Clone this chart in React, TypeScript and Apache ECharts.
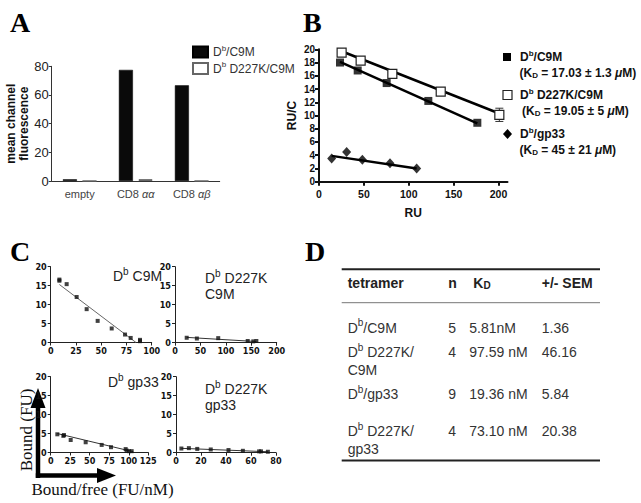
import React, { useEffect, useRef } from 'react';
import * as echarts from 'echarts';

// ---------------- Panel A : bar chart ----------------
const aCategories = ['empty', 'CD8αα', 'CD8αβ'];
const aSeriesNames = ['Db/C9M', 'Db D227K/C9M'];
const aC9M = [1.2, 77.5, 66.7];
const aD227K = [0, 1.3, 0];

// ---------------- Panel B : Scatchard (RU/C vs RU) ----------------
const bC9M_RU = [23.4, 43.1, 75.4, 121.8, 176.4];
const bC9M_RUC = [18.0, 16.8, 14.9, 12.2, 8.9];
const bD227K_RU = [25.2, 46.4, 81.7, 135.6, 200.9];
const bD227K_RUC = [19.5, 18.3, 16.3, 13.6, 10.1];
const bD227K_SEM = [0, 0, 0, 0.4, 1.0];
const bGp33_RU = [14.1, 30.8, 48.3, 79.1, 108.8];
const bGp33_RUC = [3.5, 4.5, 3.3, 2.8, 2.0];
const bFitC9M = [[23.4, 18.1], [176.4, 8.8]];
const bFitD227K = [[25.2, 19.7], [200.9, 10.3]];
const bFitGp33 = [[14.1, 3.9], [108.8, 2.0]];
const bLegendNames = ['Db/C9M', 'Db D227K/C9M', 'Db/gp33'];
const bLegendKD = ['17.03 ± 1.3', '19.05 ± 5', '45 ± 21'];
const bXTicks = [0, 50, 100, 150, 200];

// ---------------- Panel C : four Scatchard plots ----------------
const cTitles = [['Db C9M'], ['Db D227K', 'C9M'], ['Db gp33'], ['Db D227K', 'gp33']];
const cXMax = [100, 200, 125, 80];
const cXInterval = [25, 50, 25, 20];
const c1X = [8.6, 8.6, 15.8, 25.7, 35.6, 46.5, 60.4, 73.6, 79.2, 88.4, 88.4];
const c1Y = [16.6, 16.3, 15.4, 12.0, 8.8, 5.7, 3.7, 2.1, 1.2, 0.7, 0.35];
const c1Fit = [[8.6, 15.3], [84.5, 0]];
const c2X = [23, 43, 85, 143, 154, 160];
const c2Y = [1.3, 1.1, 1.2, 0.45, 0.35, 0.45];
const c2Fit = [[23, 1.4], [160, 0.3]];
const c3X = [8.5, 16.2, 17, 25.6, 44.8, 65.3, 77.2, 96, 97.3, 100.3, 103.7];
const c3Y = [4.8, 4.4, 4.6, 3.3, 2.7, 2.0, 1.4, 0.9, 0.5, 0.35, 0.35];
const c3Fit = [[8.5, 5.0], [105.8, 0.2]];
const c4X = [4.3, 10.3, 17, 27.8, 42, 53.5, 66.5, 68, 73.5];
const c4Y = [1.1, 1.2, 1.0, 0.85, 0.7, 0.5, 0.35, 0.35, 0.25];
const c4Fit = [[4.3, 1.15], [73.5, 0.25]];

// ---------------- Panel D : table ----------------
const dHeaders = ['tetramer', 'n', 'KD', '+/- SEM'];
const dTetramerLine1 = ['Db/C9M', 'Db D227K/', 'Db/gp33', 'Db D227K/'];
const dTetramerLine2 = ['', 'C9M', '', 'gp33'];
const dN = ['5', '4', '9', '4'];
const dKD = ['5.81nM', '97.59 nM', '19.36 nM', '73.10 nM'];
const dSEM = ['1.36', '46.16', '5.84', '20.38'];

// ---------------- styling / layout ----------------
const SANS = "'Liberation Sans', Arial, Helvetica, sans-serif";
const NARROW = "'Liberation Sans Narrow', 'DejaVu Sans Condensed', 'Liberation Sans', Arial, sans-serif";
const SERIF = "'Liberation Serif', 'Times New Roman', serif";

const fmtDb = (s: string) => s.replace(/^Db/, 'D{sup|b}');

const richFor = (size: number, weight: string, family: string, color: string) => ({
  sup: {
    fontSize: Math.round(size * 0.68), fontWeight: weight, fontFamily: family,
    color, fill: color, padding: [0, 0, Math.round(size * 0.7), 0],
  },
  sub: {
    fontSize: Math.round(size * 0.68), fontWeight: weight, fontFamily: family,
    color, fill: color, padding: [Math.round(size * 0.45), 0, 0, 0],
  },
  it: { fontSize: size, fontStyle: 'italic', fontWeight: weight, fontFamily: family, color, fill: color },
});

const gText = (
  text: string, x: number, y: number, size: number,
  o: { weight?: string; family?: string; color?: string; align?: string; rotation?: number } = {}
) => {
  const weight = o.weight || 'normal';
  const family = o.family || SANS;
  const color = o.color || '#222';
  const align = o.align || 'left';
  return {
    type: 'text', x, y, rotation: o.rotation || 0, silent: true,
    style: {
      text, fontSize: size, fontWeight: weight, fontFamily: family, fill: color,
      align, verticalAlign: 'middle', textAlign: align, textVerticalAlign: 'middle',
      rich: richFor(size, weight, family, color),
    },
  };
};

const gLine = (x1: number, y1: number, x2: number, y2: number, w: number, color = '#222') => ({
  type: 'line', silent: true, shape: { x1, y1, x2, y2 }, style: { stroke: color, lineWidth: w },
});

const cGrids = [
  { left: 50.7, top: 266.7, width: 101, height: 75.8 },
  { left: 175, top: 266.7, width: 101.7, height: 76 },
  { left: 50.7, top: 376.7, width: 97.6, height: 75.8 },
  { left: 176, top: 376.7, width: 100, height: 76 },
];

function buildOption() {
  const grids: any[] = [
    { left: 51.7, top: 66.3, width: 168, height: 114.7 },
    { left: 319, top: 49.3, width: 188.5, height: 132.4 },
    ...cGrids,
  ].map((g) => ({ ...g, containLabel: false, outerBoundsMode: 'none' }));

  const cAxisLabel = { fontSize: 9, fontWeight: 'bold', fontFamily: NARROW, color: '#111', margin: 4 };
  const cAxisLine = { show: true, onZero: false, lineStyle: { color: '#222', width: 1 } };
  const cAxisTick = { show: true, length: 3, lineStyle: { color: '#222', width: 1 } };

  const xAxis: any[] = [
    {
      gridIndex: 0, type: 'category', data: aCategories,
      axisLine: { lineStyle: { color: '#333', width: 1 } },
      axisTick: { show: false },
      axisLabel: {
        interval: 0, hideOverlap: false,
        fontSize: 11, color: '#444', fontFamily: SANS, margin: 7,
        formatter: (v: string) => (v.startsWith('CD8') ? 'CD8 {it|' + v.slice(3) + '}' : v),
        rich: richFor(11, 'normal', SANS, '#444'),
      },
    },
    {
      gridIndex: 1, type: 'value', min: 0, max: 210, interval: 50,
      name: 'RU', nameLocation: 'middle', nameGap: 25,
      nameTextStyle: { fontWeight: 'bold', fontSize: 12, fontFamily: SANS, color: '#111' },
      axisLine: { onZero: false, lineStyle: { color: '#111', width: 2 } },
      axisTick: { length: 4, lineStyle: { color: '#111', width: 2 }, customValues: bXTicks },
      axisLabel: {
        customValues: bXTicks, fontWeight: 'bold', fontSize: 10.5,
        fontFamily: SANS, color: '#111', margin: 7,
      },
      splitLine: { show: false },
    },
    ...cXMax.map((mx, i) => ({
      gridIndex: 2 + i, type: 'value', min: 0, max: mx, interval: cXInterval[i],
      axisLine: cAxisLine, axisTick: cAxisTick, axisLabel: cAxisLabel, splitLine: { show: false },
    })),
  ];

  const yAxis: any[] = [
    {
      gridIndex: 0, type: 'value', min: 0, max: 80, interval: 20,
      name: 'mean channel\nfluorescence', nameLocation: 'middle', nameGap: 15,
      nameTextStyle: { fontWeight: 'bold', fontSize: 12, fontFamily: SANS, color: '#111', lineHeight: 13 },
      axisLine: { show: true, lineStyle: { color: '#333', width: 1 } },
      axisTick: { show: true, length: 3, lineStyle: { color: '#333' } },
      axisLabel: { fontSize: 13, color: '#222', fontFamily: SANS, margin: 3 },
      splitLine: { show: false },
    },
    {
      gridIndex: 1, type: 'value', min: 0, max: 20, interval: 2,
      name: 'RU/C', nameLocation: 'middle', nameGap: 21,
      nameTextStyle: { fontWeight: 'bold', fontSize: 12, fontFamily: SANS, color: '#111' },
      axisLine: { show: true, lineStyle: { color: '#111', width: 2 } },
      axisTick: { show: true, length: 4, lineStyle: { color: '#111', width: 2 } },
      axisLabel: { fontWeight: 'bold', fontSize: 10, fontFamily: SANS, color: '#111', margin: 4 },
      splitLine: { show: false },
    },
    ...cGrids.map((_, i) => ({
      gridIndex: 2 + i, type: 'value', min: 0, max: 20, interval: 5,
      axisLine: cAxisLine, axisTick: cAxisTick, axisLabel: cAxisLabel, splitLine: { show: false },
    })),
  ];

  const zip = (xs: number[], ys: number[]) => xs.map((x, i) => [x, ys[i]]);

  const cData = [
    { x: c1X, y: c1Y, fit: c1Fit, fitColor: '#666' },
    { x: c2X, y: c2Y, fit: c2Fit, fitColor: '#333' },
    { x: c3X, y: c3Y, fit: c3Fit, fitColor: '#333' },
    { x: c4X, y: c4Y, fit: c4Fit, fitColor: '#333' },
  ];

  const series: any[] = [
    // Panel A
    {
      type: 'bar', name: aSeriesNames[0], xAxisIndex: 0, yAxisIndex: 0, data: aC9M,
      barWidth: 14, barGap: '40%', itemStyle: { color: '#0a0a0a', borderColor: '#000', borderWidth: 0.5 },
    },
    {
      type: 'bar', name: aSeriesNames[1], xAxisIndex: 0, yAxisIndex: 0, data: aD227K,
      barWidth: 14, itemStyle: { color: '#fff', borderColor: '#666', borderWidth: 1 },
    },
    // Panel B fits
    ...[bFitC9M, bFitD227K, bFitGp33].map((fit, i) => ({
      type: 'line', name: 'B fit ' + i, xAxisIndex: 1, yAxisIndex: 1, data: fit,
      symbol: 'none', showSymbol: false, lineStyle: { color: '#000', width: 2.5 }, z: 2,
    })),
    // Panel B error bars
    {
      type: 'custom', name: 'B SEM', xAxisIndex: 1, yAxisIndex: 1, z: 2,
      data: bD227K_RU.map((x, i) => [x, bD227K_RUC[i] - bD227K_SEM[i], bD227K_RUC[i] + bD227K_SEM[i]])
        .filter((d) => d[2] - d[1] > 0),
      encode: { x: 0, y: [1, 2] },
      renderItem: (params: any, api: any) => {
        const x = api.value(0);
        const lo = api.coord([x, api.value(1)]);
        const hi = api.coord([x, api.value(2)]);
        const w = 4;
        const st = { stroke: '#333', lineWidth: 1 };
        return {
          type: 'group',
          children: [
            { type: 'line', shape: { x1: lo[0], y1: lo[1], x2: hi[0], y2: hi[1] }, style: st },
            { type: 'line', shape: { x1: lo[0] - w, y1: lo[1], x2: lo[0] + w, y2: lo[1] }, style: st },
            { type: 'line', shape: { x1: hi[0] - w, y1: hi[1], x2: hi[0] + w, y2: hi[1] }, style: st },
          ],
        };
      },
    },
    // Panel B points
    {
      type: 'scatter', name: 'B ' + bLegendNames[0], xAxisIndex: 1, yAxisIndex: 1,
      data: zip(bC9M_RU, bC9M_RUC), symbol: 'rect', symbolSize: 8, itemStyle: { color: '#000' }, z: 3,
    },
    {
      type: 'scatter', name: 'B ' + bLegendNames[1], xAxisIndex: 1, yAxisIndex: 1,
      data: zip(bD227K_RU, bD227K_RUC), symbol: 'rect', symbolSize: 9,
      itemStyle: { color: '#fff', borderColor: '#222', borderWidth: 1.2, opacity: 1 }, z: 3,
    },
    {
      type: 'scatter', name: 'B ' + bLegendNames[2], xAxisIndex: 1, yAxisIndex: 1,
      data: zip(bGp33_RU, bGp33_RUC), symbol: 'diamond', symbolSize: [9, 10], itemStyle: { color: '#000' }, z: 3,
    },
    // Panel C
    ...cData.flatMap((c, i) => [
      {
        type: 'line', name: 'C fit ' + i, xAxisIndex: 2 + i, yAxisIndex: 2 + i, data: c.fit,
        symbol: 'none', showSymbol: false, lineStyle: { color: c.fitColor, width: 1 }, z: 2,
      },
      {
        type: 'scatter', name: 'C points ' + i, xAxisIndex: 2 + i, yAxisIndex: 2 + i,
        data: zip(c.x, c.y), symbol: 'rect', symbolSize: 4, itemStyle: { color: '#111' }, z: 3,
      },
    ]),
  ];

  // ---- graphic: panel letters, legends of B, captions of C, table D ----
  const g: any[] = [];
  const letterOpts = { weight: 'bold', family: SERIF, color: '#000' };
  g.push(gText('A', 10, 22.5, 28, letterOpts));
  g.push(gText('B', 303, 22.5, 28, letterOpts));
  g.push(gText('C', 10, 251, 28, letterOpts));
  g.push(gText('D', 305, 251, 28, letterOpts));

  // B legend
  const bLegY = [57, 95, 134];
  g.push({ type: 'rect', silent: true, shape: { x: 503, y: 53, width: 8, height: 8 }, style: { fill: '#000' } });
  g.push({
    type: 'rect', silent: true, shape: { x: 503, y: 90.5, width: 9, height: 9 },
    style: { fill: '#fff', stroke: '#222', lineWidth: 1.2 },
  });
  g.push({
    type: 'polygon', silent: true,
    shape: { points: [[507.5, 129], [512, 134], [507.5, 139], [503, 134]] }, style: { fill: '#000' },
  });
  bLegendNames.forEach((nm, i) => {
    const bo = { weight: 'bold', color: '#111' };
    g.push(gText(fmtDb(nm), 520, bLegY[i], 12, bo));
    g.push(gText('(K{sub|D} = ' + bLegendKD[i] + ' {it|μ}M)', i === 1 ? 522 : 519.5, bLegY[i] + 15.5, 12, bo));
  });

  // C subplot titles
  const cTitlePos = [
    [[113, 276]],
    [[205, 278], [205, 293.5]],
    [[108, 382]],
    [[205, 389], [205, 405]],
  ];
  cTitles.forEach((lines, i) => {
    lines.forEach((ln, j) => {
      g.push(gText(fmtDb(ln), cTitlePos[i][j][0], cTitlePos[i][j][1], 14, { color: '#222' }));
    });
  });

  // C axis arrows and captions
  g.push(gLine(38, 478, 38, 404, 4.5, '#000'));
  g.push({
    type: 'polygon', silent: true, shape: { points: [[38, 388], [45.5, 408], [30.5, 408]] }, style: { fill: '#000' },
  });
  g.push(gLine(35.8, 475.5, 100, 475.5, 4.5, '#000'));
  g.push({
    type: 'polygon', silent: true, shape: { points: [[116, 475.5], [97, 468], [97, 483]] }, style: { fill: '#000' },
  });
  g.push(gText('Bound (FU)', 26.5, 430, 17, { family: SERIF, color: '#111', align: 'center', rotation: Math.PI / 2 }));
  g.push(gText('Bound/free (FU/nM)', 31.5, 489, 17, { family: SERIF, color: '#111' }));

  // D table
  g.push(gLine(341.7, 269.3, 600, 269.3, 2, '#222'));
  g.push(gLine(341.7, 302.7, 600, 302.7, 1, '#777'));
  g.push(gLine(341.7, 460.5, 600, 460.5, 2, '#222'));
  const colX = [347.7, 448.3, 469.3, 541.7];
  const headX = [347.7, 448.3, 473.3, 541.7];
  dHeaders.forEach((h, i) => {
    const txt = h === 'KD' ? 'K{sub|D}' : h;
    g.push(gText(txt, headX[i], 282.7, 14, { weight: 'bold', color: '#222' }));
  });
  const rowY = [327.7, 352, 394, 431];
  const rowY2 = [0, 369.5, 0, 449];
  dTetramerLine1.forEach((t, i) => {
    g.push(gText(fmtDb(t), colX[0], rowY[i], 14, { color: '#333' }));
    if (dTetramerLine2[i]) g.push(gText(dTetramerLine2[i], colX[0], rowY2[i], 14, { color: '#333' }));
    g.push(gText(dN[i], colX[1], rowY[i], 14, { color: '#333' }));
    g.push(gText(dKD[i], colX[2], rowY[i], 14, { color: '#333' }));
    g.push(gText(dSEM[i], colX[3], rowY[i], 14, { color: '#333' }));
  });

  return {
    animation: false,
    backgroundColor: '#fff',
    grid: grids,
    xAxis,
    yAxis,
    legend: [
      {
        data: aSeriesNames, orient: 'vertical', left: 187, top: 39,
        itemWidth: 15, itemHeight: 11, itemGap: 2, icon: 'rect', selectedMode: false,
        formatter: fmtDb,
        textStyle: { fontSize: 12, color: '#333', fontFamily: SANS, rich: richFor(12, 'normal', SANS, '#333') },
      },
    ],
    series,
    graphic: { elements: g },
  };
}

export default function App() {
  const ref = useRef<HTMLDivElement>(null);
  useEffect(() => {
    if (!ref.current) return;
    const chart = echarts.init(ref.current, null, { renderer: 'svg' });
    chart.setOption(buildOption() as any);
    return () => chart.dispose();
  }, []);
  return (
    <div
      ref={ref}
      style={{ position: 'absolute', left: 0, top: 0, width: 641, height: 503, background: '#fff' }}
    />
  );
}
